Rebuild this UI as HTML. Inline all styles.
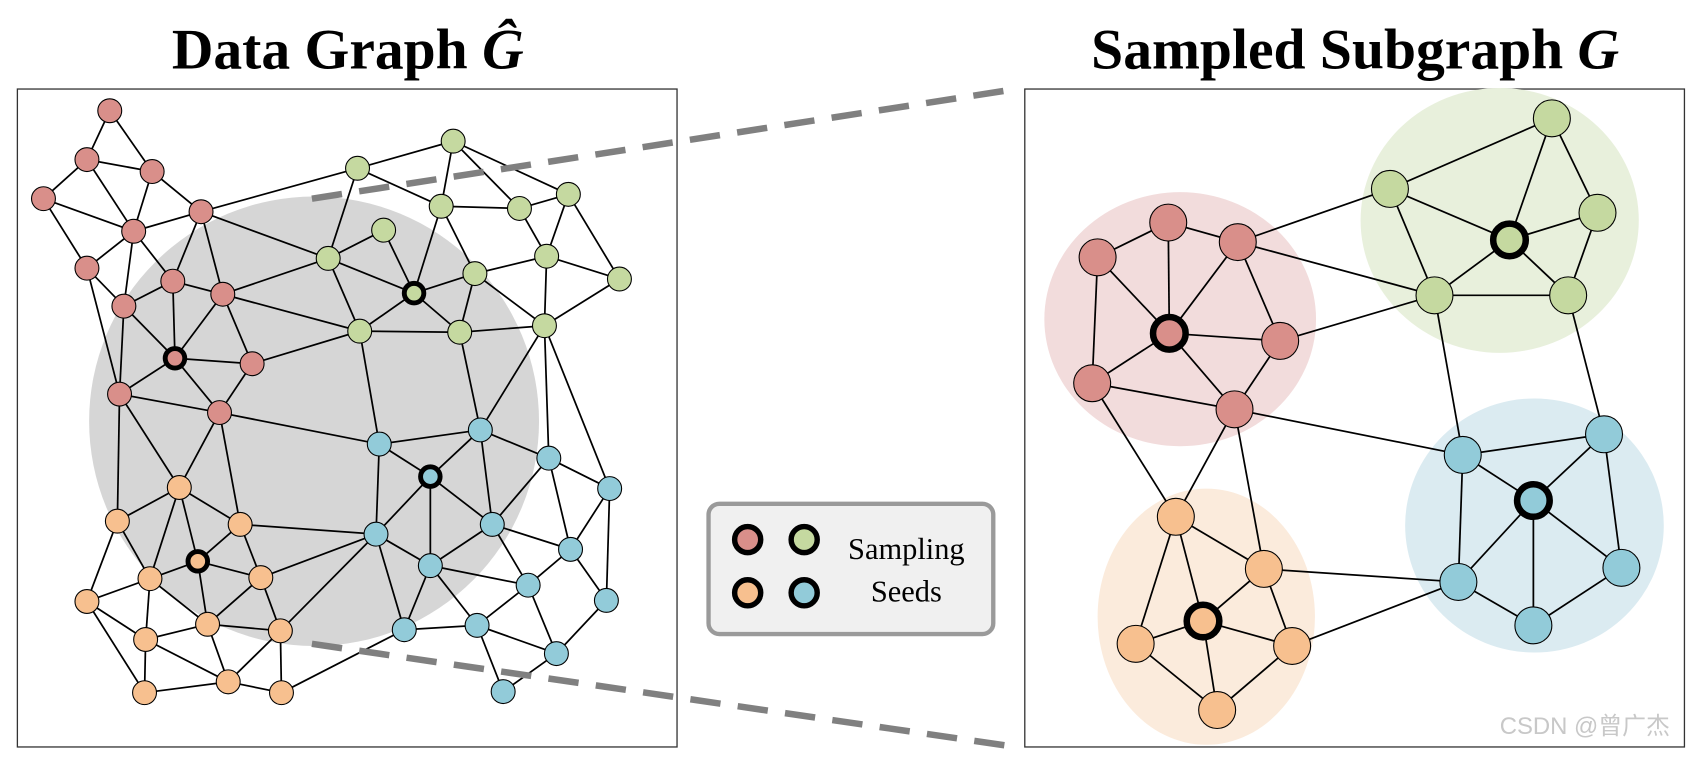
<!DOCTYPE html>
<html><head><meta charset="utf-8"><style>
html,body{margin:0;padding:0;background:#fff;width:1704px;height:760px;overflow:hidden}
svg{display:block}
</style></head><body>
<svg id="s" width="1704" height="760" viewBox="0 0 1568 700" preserveAspectRatio="none" xmlns="http://www.w3.org/2000/svg">
<rect x="16" y="82" width="607" height="606" fill="#fff" stroke="#333" stroke-width="1.2"/>
<rect x="943" y="82" width="607" height="606" fill="#fff" stroke="#333" stroke-width="1.2"/>
<circle cx="289" cy="388" r="207" fill="#d6d6d6"/>
<ellipse cx="1086" cy="294" rx="125" ry="117" fill="#f2dcdc"/>
<ellipse cx="1380" cy="203" rx="128" ry="122" fill="#e8f0dc"/>
<ellipse cx="1412" cy="484" rx="119" ry="117" fill="#dbebf1"/>
<ellipse cx="1110" cy="568" rx="100" ry="118" fill="#fbebdc"/>
<g id="edges" stroke="#000" stroke-width="1.6"></g>
<g id="nodes" stroke="#000" stroke-width="1"></g>
<line x1="287" y1="183" x2="935" y2="82" stroke="#808080" stroke-width="6" stroke-dasharray="28,16"/>
<line x1="287" y1="593" x2="935" y2="688" stroke="#808080" stroke-width="6" stroke-dasharray="28,16"/>
<rect x="652" y="464" width="262" height="120" rx="10" fill="#f0f0f0" stroke="#9a9a9a" stroke-width="4"/>
<g stroke="#000" stroke-width="5">
<circle cx="688" cy="497" r="12" fill="#d98f8a"/><circle cx="740" cy="497" r="12" fill="#c5d9a0"/>
<circle cx="688" cy="546" r="12" fill="#f7c08f"/><circle cx="740" cy="546" r="12" fill="#92cbd9"/>
</g>
<text x="834" y="515" font-family="Liberation Serif, serif" font-size="28" text-anchor="middle">Sampling</text>
<text x="834" y="554" font-family="Liberation Serif, serif" font-size="28" text-anchor="middle">Seeds</text>
<text x="320" y="63" font-family="Liberation Serif, serif" font-size="53" font-weight="bold" text-anchor="middle">Data Graph <tspan font-style="italic">Ĝ</tspan></text>
<text x="1247" y="63" font-family="Liberation Serif, serif" font-size="53" font-weight="bold" text-anchor="middle">Sampled Subgraph <tspan font-style="italic">G</tspan></text>
<text x="1380" y="676" font-family="Liberation Sans, Noto Sans CJK SC, sans-serif" font-size="22" fill="#c8c8c8">CSDN @曾广杰</text>
</svg>
<script>
var C={r:"#d98f8a",g:"#c5d9a0",b:"#92cbd9",o:"#f7c08f"};
var N={
r1:[101,102],r2:[80,147],r3:[140,158],r4:[40,183],r5:[185,195],r6:[123,213],r7:[80,247],r8:[159,259],r9:[205,271],r10:[114,282],rs:[161,330],r11:[232,335],r12:[110,363],r13:[202,380],
g1:[417,130],g2:[329,155],g3:[406,190],g4:[478,192],g5:[523,179],g6:[353,212],g7:[302,238],g8:[503,236],g9:[437,252],g10:[570,257],gs:[381,270],g11:[331,305],g12:[423,306],g13:[501,300],
b1:[442,396],b2:[349,409],bs:[396,439],b3:[505,422],b4:[561,450],b5:[453,483],b6:[346,492],b7:[525,506],b8:[396,521],b9:[486,539],b10:[558,553],b11:[372,580],b12:[439,576],b13:[512,602],b14:[463,637],
o1:[165,449],o2:[108,480],o3:[221,483],os:[182,517],o4:[138,533],o5:[240,532],o6:[80,554],o7:[191,575],o8:[258,581],o9:[134,589],o10:[210,628],o11:[133,638],o12:[259,638]};
var E="r1-r2 r1-r3 r2-r3 r2-r4 r2-r6 r3-r6 r3-r5 r4-r6 r4-r7 r6-r5 r6-r7 r6-r10 r7-r10 r7-r12 r6-r8 r5-r8 r5-r9 r5-g7 r5-g2 r8-r10 r8-r9 r8-rs r10-rs r10-r12 r9-rs r9-r11 r9-g7 r9-g11 rs-r11 rs-r12 rs-r13 r11-r13 r11-g11 r12-r13 r12-o2 r12-o1 r13-b2 r13-o1 r13-o3 g1-g2 g1-g3 g1-g4 g1-g5 g2-g7 g2-g3 g3-g4 g3-gs g3-g9 g4-g5 g4-g8 g5-g8 g5-g10 g6-g7 g6-gs g7-g11 g7-gs g8-g9 g8-g10 g8-g13 g9-gs g9-g12 g9-g13 gs-g11 gs-g12 g11-g12 g12-g13 g10-g13 g11-b2 g12-b1 g13-b1 g13-b3 g13-b4 b2-b1 b2-bs b2-b6 b1-bs b1-b3 b1-b5 b3-b4 b3-b5 b3-b7 b4-b7 b4-b10 bs-b6 bs-b8 bs-b5 b6-b8 b6-b11 b6-o8 b6-o5 b6-o3 b5-b8 b5-b9 b5-b7 b7-b9 b7-b10 b8-b11 b8-b12 b8-b9 b9-b12 b9-b13 b10-b13 b12-b13 b12-b11 b12-b14 b13-b14 b11-o12 o1-o2 o1-o4 o1-os o1-o3 o2-o4 o2-o6 o3-os o3-o5 os-o4 os-o5 os-o7 o4-o6 o4-o9 o4-o7 o5-o7 o5-o8 o6-o9 o6-o11 o9-o11 o9-o7 o9-o10 o7-o10 o7-o8 o8-o10 o8-o12 o10-o11 o10-o12";
var M={R1:[1075,205],R2:[1010,237],R3:[1139,223],Rs:[1076,307],R4:[1178,314],R5:[1005,353],R6:[1136,377],
G0:[1428,109],G1:[1279,174],G2:[1470,196],Gs:[1389,221],G3:[1320,272],G4:[1443,272],
B1:[1346,419],B2:[1476,400],Bs:[1411,461],B3:[1342,536],B4:[1492,523],B5:[1411,576],
O1:[1082,476],O2:[1163,524],Os:[1107,572],O3:[1045,593],O4:[1189,595],O5:[1120,654]};
var F="R1-R2 R1-R3 R1-Rs R2-Rs R2-R5 R3-Rs R3-R4 R3-G1 R3-G3 Rs-R4 Rs-R5 Rs-R6 R4-R6 R4-G3 R5-R6 R5-O1 R6-O1 R6-O2 R6-B1 G0-G1 G0-Gs G0-G2 G1-Gs G1-G3 G2-Gs G2-G4 Gs-G3 Gs-G4 G3-G4 G3-B1 G4-B2 B1-B2 B1-Bs B1-B3 B2-Bs B2-B4 Bs-B3 Bs-B5 Bs-B4 B3-B5 B5-B4 B3-O2 B3-O4 O1-O2 O1-Os O1-O3 O2-Os O2-O4 Os-O3 Os-O4 Os-O5 O3-O5 O4-O5";
var ns="http://www.w3.org/2000/svg",eg=document.getElementById("edges"),ng=document.getElementById("nodes");
function draw(P,S,r,sw){S.split(" ").forEach(function(e){var a=e.split("-"),p=P[a[0]],q=P[a[1]],l=document.createElementNS(ns,"line");
l.setAttribute("x1",p[0]);l.setAttribute("y1",p[1]);l.setAttribute("x2",q[0]);l.setAttribute("y2",q[1]);eg.appendChild(l);});
for(var k in P){var c=document.createElementNS(ns,"circle"),col=C[k[0].toLowerCase()],seed=k[1]=="s";
c.setAttribute("cx",P[k][0]);c.setAttribute("cy",P[k][1]);c.setAttribute("fill",col);
if(seed){c.setAttribute("r",r-2);c.setAttribute("stroke-width",sw);}else c.setAttribute("r",r);ng.appendChild(c);}}
draw(N,E,11,4.5);draw(M,F,17,6);
</script>
</body></html>
